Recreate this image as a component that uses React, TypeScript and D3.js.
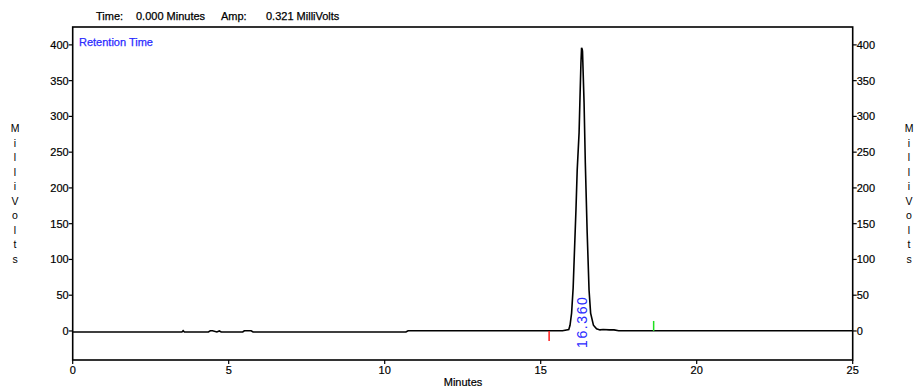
import React from "react";
import * as d3 from "d3";

const traceTime = [0, 3.5, 3.54, 3.58, 4.35, 4.41, 4.48, 4.62, 4.7, 4.76, 5.45, 5.5, 5.72, 5.78, 10.68, 10.75, 15.7, 15.9, 15.94, 15.99, 16.04, 16.08, 16.13, 16.17, 16.23, 16.26, 16.29, 16.31, 16.33, 16.34, 16.39, 16.43, 16.49, 16.55, 16.6, 16.69, 16.79, 16.9, 17.0, 17.2, 17.35, 17.5, 25];
const traceMv = [-1.4, -1.4, 0.4, -1.4, -1.4, 0.2, 0.2, -1.4, 0.0, -1.4, -1.4, 0.2, 0.2, -1.4, -1.4, 0.3, 0.4, 2, 8, 25, 60, 109, 169, 225, 277, 327, 375, 396, 394, 391, 319, 235, 137, 57, 25, 8, 3, 1.5, 2, 1.5, 1.5, 0.3, 0.3];

const yTicks = [0, 50, 100, 150, 200, 250, 300, 350, 400];
const xTicks = [0, 5, 10, 15, 20, 25];
const peakLabel = "16.360";
const peakTime = 16.31;
const startMarkTime = 15.27;
const endMarkTime = 18.62;
const axisTitleLetters = ["M", "i", "l", "l", "i", "V", "o", "l", "t", "s"];

const W = 916;
const H = 388;
const L = 72.7;
const R = 852.7;
const T = 27;
const B = 360;
const font = "'Liberation Sans', Arial, sans-serif";

export default function App() {
  const x = d3.scaleLinear().domain([0, 25]).range([L, R]);
  const y = d3.scaleLinear().domain([-40.6, 425]).range([B, T]);
  const pts: [number, number][] = traceTime.map((t, i) => [t, traceMv[i]]);
  const line = d3
    .line<[number, number]>()
    .x((d) => x(d[0]))
    .y((d) => y(d[1]));

  return (
    <svg
      width={W}
      height={H}
      style={{ position: "fixed", left: 0, top: 0, background: "#fff" }}
      fontFamily={font}
      fontSize={11}
    >
      <rect x={0} y={0} width={W} height={H} fill="#fff" />
      <g fill="#000" stroke="#000" strokeWidth={0.25}>
        <text x={96} y={20}>Time:</text>
        <text x={136} y={20}>0.000 Minutes</text>
        <text x={221} y={20}>Amp:</text>
        <text x={266} y={20}>0.321 MilliVolts</text>
      </g>

      <rect x={L} y={T} width={R - L} height={B - T} fill="none" stroke="#000" strokeWidth={1.6} />

      {yTicks.map((v) => (
        <g key={"yl" + v}>
          <line x1={L - 4} x2={L} y1={y(v)} y2={y(v)} stroke="#000" strokeWidth={1.2} />
          <text x={L - 4} y={y(v) + 4} textAnchor="end" fill="#000" stroke="#000" strokeWidth={0.2}>{v}</text>
          <line x1={R} x2={R + 4} y1={y(v)} y2={y(v)} stroke="#000" strokeWidth={1.2} />
          <text x={R + 4} y={y(v) + 4} textAnchor="start" fill="#000" stroke="#000" strokeWidth={0.2}>{v}</text>
        </g>
      ))}

      {xTicks.map((v) => (
        <g key={"xt" + v}>
          <line x1={x(v)} x2={x(v)} y1={B} y2={B + 4} stroke="#000" strokeWidth={1.2} />
          <text x={x(v)} y={374} textAnchor="middle" fill="#000" stroke="#000" strokeWidth={0.2}>{v}</text>
        </g>
      ))}
      <text x={463} y={386} textAnchor="middle" fill="#000" stroke="#000" strokeWidth={0.2}>Minutes</text>

      {axisTitleLetters.map((c, i) => (
        <g key={"at" + i}>
          <text x={15} y={132 + i * 14.5} textAnchor="middle" fill="#000" fontSize={10.5}>{c}</text>
          <text x={909} y={132 + i * 14.5} textAnchor="middle" fill="#000" fontSize={10.5}>{c}</text>
        </g>
      ))}

      <text x={79} y={46} fill="#2a2aff" stroke="#2a2aff" strokeWidth={0.25}>Retention Time</text>

      <path d={line(pts) || ""} fill="none" stroke="#000" strokeWidth={1.6} />

      <line x1={x(startMarkTime)} x2={x(startMarkTime)} y1={y(0)} y2={y(0) + 10} stroke="#ff1a1a" strokeWidth={1.5} />
      <line x1={x(endMarkTime)} x2={x(endMarkTime)} y1={y(0) - 10} y2={y(0)} stroke="#1ee01e" strokeWidth={1.5} />

      <text
        transform={`translate(${x(peakTime) + 5},${348}) rotate(-90)`}
        fill="#2a2aff"
        fontSize={14}
        letterSpacing={1.6}
      >
        {peakLabel}
      </text>
    </svg>
  );
}
